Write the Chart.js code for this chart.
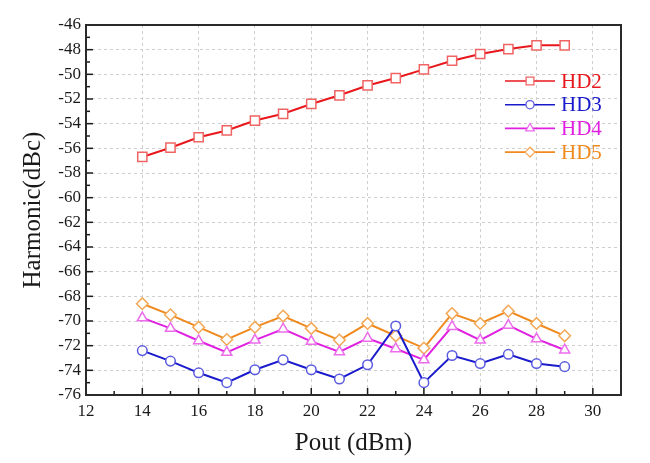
<!DOCTYPE html>
<html>
<head>
<meta charset="utf-8">
<script src="https://cdn.jsdelivr.net/npm/chart.js@4.4.1/dist/chart.umd.min.js"></script>
<style>
  html, body { margin: 0; background: #fff; }
  #wrap { width: 650px; height: 463px; }
</style>
</head>
<body>
<div id="wrap"><canvas id="myChart"></canvas></div>
<script>
var pout = [14, 15, 16, 17, 18, 19, 20, 21, 22, 23, 24, 25, 26, 27, 28, 29];
var hd2 = [-56.7, -55.95, -55.1, -54.55, -53.75, -53.2, -52.4, -51.7, -50.9, -50.3, -49.6, -48.9, -48.35, -47.95, -47.65, -47.65];
var hd3 = [-72.4, -73.25, -74.2, -75.0, -73.95, -73.15, -73.95, -74.7, -73.55, -70.4, -75.0, -72.8, -73.45, -72.7, -73.45, -73.7];
var hd4 = [-69.75, -70.6, -71.6, -72.55, -71.55, -70.65, -71.65, -72.5, -71.4, -72.25, -73.15, -70.45, -71.55, -70.35, -71.45, -72.35];
var hd5 = [-68.6, -69.5, -70.5, -71.5, -70.5, -69.6, -70.6, -71.55, -70.2, -71.2, -72.2, -69.4, -70.2, -69.2, -70.2, -71.2];
var names = ["HD2", "HD3", "HD4", "HD5"];

var serif = "'Liberation Serif', 'DejaVu Serif', serif";

function pts(vals) {
  var out = [];
  for (var i = 0; i < pout.length; i++) out.push({ x: pout[i], y: vals[i] });
  return out;
}

function makeSet(label, vals, line, mark, style, r) {
  return {
    label: label,
    data: pts(vals),
    borderColor: line,
    borderWidth: 2,
    pointStyle: style,
    pointRadius: r,
    pointBorderColor: mark,
    pointBackgroundColor: "#fff",
    pointBorderWidth: 1.5,
    textColor: line,
    tension: 0
  };
}

var sets = [
  makeSet(names[0], hd2, "#e8171c", "#f06464", "rect", 6.5),
  makeSet(names[1], hd3, "#1a1acd", "#5b5be0", "circle", 4.8),
  makeSet(names[2], hd4, "#e020e0", "#ec6cec", "triangle", 5.8),
  makeSet(names[3], hd5, "#f0891e", "#f2a855", "rectRot", 5.8)
];

// frame, inward ticks and in-plot legend
var decor = {
  id: "decor",
  afterDraw: function (chart) {
    var ctx = chart.ctx, a = chart.chartArea;
    var xs = chart.scales.x, ys = chart.scales.y;
    var v, p, len;
    ctx.save();
    ctx.strokeStyle = "#1a1a1a";
    ctx.lineWidth = 1.5;
    for (v = xs.min; v <= xs.max; v++) {
      p = xs.getPixelForValue(v);
      len = (v % 2 === 0) ? 7 : 4;
      ctx.beginPath(); ctx.moveTo(p, a.bottom); ctx.lineTo(p, a.bottom - len); ctx.stroke();
    }
    for (v = ys.min; v <= ys.max; v++) {
      p = ys.getPixelForValue(v);
      len = (v % 2 === 0) ? 7 : 4;
      ctx.beginPath(); ctx.moveTo(a.left, p); ctx.lineTo(a.left + len, p); ctx.stroke();
    }
    ctx.lineWidth = 2;
    ctx.strokeStyle = "#2a2a2a";
    ctx.strokeRect(a.left, a.top, a.right - a.left, a.bottom - a.top);

    // legend
    ctx.font = "21px " + serif;
    ctx.textBaseline = "middle";
    ctx.textAlign = "left";
    for (var i = 0; i < sets.length; i++) {
      var d = sets[i];
      var y = 81 + i * 23.7;
      ctx.strokeStyle = d.borderColor;
      ctx.lineWidth = 1.6;
      ctx.beginPath(); ctx.moveTo(505, y); ctx.lineTo(555, y); ctx.stroke();
      ctx.fillStyle = "#fff";
      ctx.strokeStyle = d.pointBorderColor;
      ctx.lineWidth = 1.3;
      Chart.helpers.drawPoint(ctx, { pointStyle: d.pointStyle, radius: d.pointRadius * 0.85, rotation: 0, borderWidth: 1.3 }, 530, y);
      ctx.fillStyle = d.textColor;
      ctx.fillText(d.label, 561, y + 1);
    }
    ctx.restore();
  }
};

new Chart("myChart", {
  type: "line",
  data: { datasets: sets },
  options: {
    responsive: true,
    maintainAspectRatio: false,
    animation: false,
    layout: { padding: { left: 0, right: 29, top: 25, bottom: 0 } },
    plugins: { legend: { display: false }, tooltip: { enabled: false } },
    scales: {
      x: {
        type: "linear",
        min: 12,
        max: 31,
        afterFit: function (s) { s.height = 68; },
        ticks: { stepSize: 2, includeBounds: false, padding: 6, color: "#1a1a1a", font: { family: serif, size: 17 } },
        grid: { color: "#cfcfcf", drawTicks: false, lineWidth: 1 },
        border: { display: false, dash: [3, 3] },
        title: { display: true, text: "Pout (dBm)", color: "#1a1a1a", font: { family: serif, size: 25 }, padding: { top: 0, bottom: 5 } }
      },
      y: {
        min: -76,
        max: -46,
        afterFit: function (s) { s.width = 86; },
        ticks: { stepSize: 2, padding: 5, color: "#1a1a1a", font: { family: serif, size: 17 } },
        grid: { color: "#cfcfcf", drawTicks: false, lineWidth: 1 },
        border: { display: false, dash: [3, 3] },
        title: { display: true, text: "Harmonic(dBc)", color: "#1a1a1a", font: { family: serif, size: 25 }, padding: { top: 18, bottom: 0 } }
      }
    }
  },
  plugins: [decor]
});
</script>
</body>
</html>
